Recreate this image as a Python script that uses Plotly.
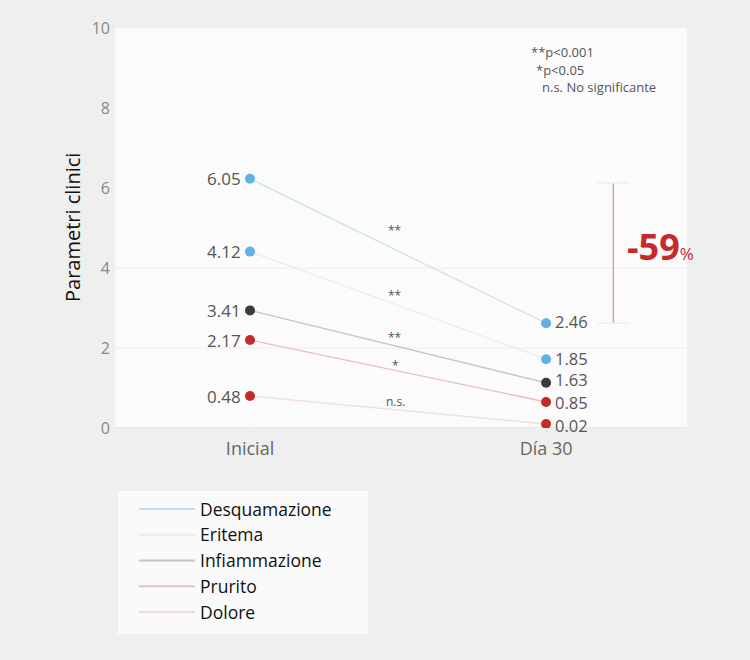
import plotly.graph_objects as go

# ---- data ----
categories = ["Inicial", "Día 30"]
series = ["Desquamazione", "Eritema", "Infiammazione", "Prurito", "Dolore"]
y_inicial = [6.23, 4.41, 2.94, 2.20, 0.80]
y_dia30 = [2.62, 1.72, 1.13, 0.65, 0.10]
labels_inicial = ["6.05", "4.12", "3.41", "2.17", "0.48"]
labels_dia30 = ["2.46", "1.85", "1.63", "0.85", "0.02"]
significance = ["**", "**", "**", "*", "n.s."]
y_ticks = [0, 2, 4, 6, 8, 10]
notes = ["**p<0.001", "*p<0.05", "n.s. No significante"]

# ---- styles ----
marker_colors = ["#5db3e6", "#5db3e6", "#3b3b3d", "#c62a2a", "#c62a2a"]
line_colors = ["#c9e3ec", "#e3edf1", "#c3c3ca", "#e6bfbf", "#f1dada"]
legend_line_colors = ["#c3e0ea", "#e3edf1", "#c3c3ca", "#e6bfbf", "#f1dada"]
sig_shift = [19, 9, 8, 5, 8]
dia_label_shift = [2, 1, 3, 0, -1]
FONT = "Open Sans"

fig = go.Figure()
xs = [0, 1]
for i, name in enumerate(series):
    fig.add_trace(go.Scatter(
        x=xs, y=[y_inicial[i], y_dia30[i]], mode="lines+markers",
        line=dict(color=line_colors[i], width=1.3),
        marker=dict(color=marker_colors[i], size=10),
        showlegend=False, hoverinfo="skip"))
for i, name in enumerate(series):
    fig.add_trace(go.Scatter(
        x=[None], y=[None], mode="lines", name=name,
        line=dict(color=legend_line_colors[i], width=2)))

ann = []
for i in range(len(series)):
    ann.append(dict(x=0, y=y_inicial[i], xref="x", yref="y", text=labels_inicial[i],
                    showarrow=False, xanchor="right", xshift=-7,
                    font=dict(size=17, color="#555", family=FONT)))
    ann.append(dict(x=1, y=y_dia30[i], xref="x", yref="y", text=labels_dia30[i],
                    showarrow=False, xanchor="left", xshift=7, yshift=dia_label_shift[i],
                    font=dict(size=16.5, color="#555", family=FONT)))
    xm = 0.49
    ym = y_inicial[i] + (y_dia30[i] - y_inicial[i]) * xm
    ann.append(dict(x=xm, y=ym, xref="x", yref="y", text=significance[i],
                    showarrow=False, yshift=sig_shift[i],
                    font=dict(size=12, color="#555", family=FONT)))

# notes top right
note_x = [529, 534, 540]
for j, t in enumerate(notes):
    ann.append(dict(x=(note_x[j] - 115) / 572, y=(428 - (52 + j * 17.5)) / 400,
                    xref="paper", yref="paper", text=t, showarrow=False,
                    xanchor="left", yanchor="middle",
                    font=dict(size=13, color="#555", family=FONT)))

# reduction
pct = round((float(labels_dia30[0]) - float(labels_inicial[0])) / float(labels_inicial[0]) * 100)
ann.append(dict(x=1.385, y=(y_inicial[0] + y_dia30[0]) / 2 + 0.12, xref="x", yref="y",
                text=f"<b>{pct}</b><span style='font-size:17px'>%</span>", showarrow=False,
                font=dict(size=36, color="#c62a2a", family=FONT)))

# y title
ann.append(dict(x=(72 - 115) / 572, y=(428 - 228) / 400, xref="paper", yref="paper",
                text="Parametri clinici", textangle=-90, showarrow=False,
                xanchor="center", yanchor="middle",
                font=dict(size=20, color="#111", family=FONT)))

shapes = []
for g in [2, 4]:
    shapes.append(dict(type="line", xref="paper", yref="y", x0=0, x1=1, y0=g, y1=g,
                       line=dict(color="#ececec", width=1), layer="below"))
shapes.append(dict(type="line", xref="paper", yref="y", x0=0, x1=1, y0=0, y1=0,
                   line=dict(color="#e2e2e2", width=1.5), layer="below"))
bx = 1.227
shapes.append(dict(type="line", xref="x", yref="y", x0=bx, x1=bx, y0=y_dia30[0], y1=y_inicial[0] - 0.1,
                   line=dict(color="#dc8f8f", width=1.2)))
for yy in [y_dia30[0], y_inicial[0] - 0.1]:
    shapes.append(dict(type="line", xref="x", yref="y", x0=bx - 0.055, x1=bx + 0.055, y0=yy, y1=yy,
                       line=dict(color="#ececec", width=1.2)))
# legend panel
shapes.append(dict(type="rect", xref="paper", yref="paper",
                   x0=(118 - 115) / 572, x1=(368 - 115) / 572,
                   y0=(428 - 634) / 400, y1=(428 - 491) / 400,
                   fillcolor="#fafafa", line=dict(width=0), layer="below"))

fig.update_layout(
    width=750, height=660,
    margin=dict(l=115, r=63, t=28, b=232),
    paper_bgcolor="#efefef", plot_bgcolor="#fbfbfb",
    font=dict(family=FONT),
    xaxis=dict(range=[-0.456, 1.476], tickvals=xs, ticktext=categories,
               showgrid=False, zeroline=False, showline=False,
               ticks="outside", ticklen=3, tickcolor="#ddd",
               tickfont=dict(size=18, color="#666", family=FONT), ticklabelstandoff=1),
    yaxis=dict(range=[0, 10], tickvals=y_ticks, showgrid=False, zeroline=False,
               showline=False, ticks="",
               tickfont=dict(size=16, color="#888", family=FONT), ticklabelstandoff=4),
    legend=dict(x=(134 - 115) / 572, y=(428 - 491) / 400, xanchor="left", yanchor="top",
                bgcolor="rgba(0,0,0,0)", font=dict(size=17.5, color="#111", family=FONT),
                borderwidth=0, itemwidth=56, tracegroupgap=0),
    annotations=ann, shapes=shapes,
)
fig.write_html("out.html", config={"displayModeBar": False},
               post_script="document.body.style.margin='0';document.body.style.overflow='hidden';")
